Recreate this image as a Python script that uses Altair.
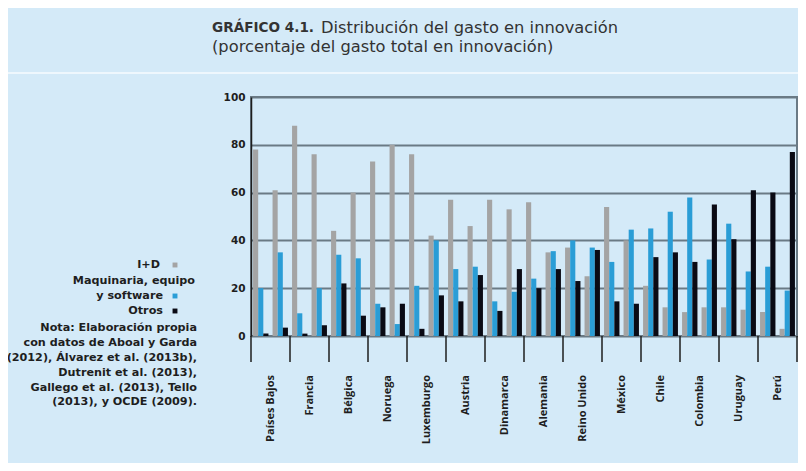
import altair as alt
import pandas as pd

countries = ["Países Bajos", "Francia", "Bélgica", "Noruega", "Luxemburgo", "Austria",
             "Dinamarca", "Alemania", "Reino Unido", "México", "Chile", "Colombia",
             "Uruguay", "Perú"]
subgroups = ["M", "S"]
series = ["I+D", "Maquinaria, equipo y software", "Otros"]
colors = ["#a4a4a4", "#2a9dd6", "#0a0a14"]

id_M = [78, 88, 44, 73, 76, 57, 57, 56, 37, 54, 21, 10, 12, 10]
id_S = [61, 76, 60, 80, 42, 46, 53, 35, 25, 40, 12, 12, 11, 3]
maq_M = [20, 9.5, 34, 13.5, 21, 28, 14.5, 24, 40, 31, 45, 58, 47, 29]
maq_S = [35, 20, 32.5, 5, 40, 29, 18.5, 35.5, 37, 44.5, 52, 32, 27, 19]
otros_M = [1, 1, 22, 12, 3, 14.5, 10.5, 20, 23, 14.5, 33, 31, 40.5, 60]
otros_S = [3.5, 4.5, 8.5, 13.5, 17, 25.5, 28, 28, 36, 13.5, 35, 55, 61, 77]

y_ticks = [0, 20, 40, 60, 80, 100]

title_bold = "GRÁFICO 4.1."
title_rest = "Distribución del gasto en innovación"
title_line2 = "(porcentaje del gasto total en innovación)"
legend_lines = ["I+D", "Maquinaria, equipo", "y software", "Otros"]
note_lines = ["Nota: Elaboración propia", "con datos de Aboal y Garda",
              "(2012), Álvarez et al. (2013b),", "Dutrenit et al. (2013),",
              "Gallego et al. (2013), Tello", "(2013), y OCDE (2009)."]

values = {
    ("M", "I+D"): id_M, ("S", "I+D"): id_S,
    ("M", series[1]): maq_M, ("S", series[1]): maq_S,
    ("M", "Otros"): otros_M, ("S", "Otros"): otros_S,
}

keys = [f"{c}|{s}" for c in countries for s in subgroups]
rows = []
for i, c in enumerate(countries):
    for s in subgroups:
        for se in series:
            rows.append({"key": f"{c}|{s}", "serie": se, "valor": values[(s, se)][i]})
df = pd.DataFrame(rows)

W, H = 546, 239
FONT = "Open Sans"
WIDE = "DejaVu Sans"
GRID = "#6a7a85"
DARK = "#1e1e1e"

xscale = alt.Scale(domain=keys, paddingInner=0, paddingOuter=0)

bars = alt.Chart(df).mark_bar().encode(
    x=alt.X("key:N", scale=xscale,
            axis=alt.Axis(title=None, ticks=False, labelAngle=0, labelPadding=6,
                          labelExpr="split(datum.value, '|')[1]",
                          labelFontWeight="bold", labelFontSize=11, labelColor=DARK,
                          labelFont=FONT, domainColor=DARK, domainWidth=1.5)),
    xOffset=alt.XOffset("serie:N", sort=series,
                        scale=alt.Scale(domain=series, paddingInner=0, paddingOuter=0.4)),
    y=alt.Y("valor:Q", scale=alt.Scale(domain=[0, 100]),
            axis=alt.Axis(title=None, values=y_ticks, ticks=False, grid=True,
                          gridColor=GRID, gridWidth=2, gridOpacity=1,
                          domainColor=DARK, domainWidth=1.5,
                          labelFont=WIDE, labelFontWeight="bold", labelFontSize=10.5,
                          labelColor=DARK, labelPadding=6)),
    color=alt.Color("serie:N", scale=alt.Scale(domain=series, range=colors), legend=None),
)

df_c = pd.DataFrame({"key": [f"{c}|S" for c in countries], "pais": countries})
country_text = alt.Chart(df_c).mark_text(
    angle=270, align="right", baseline="middle", fontWeight="bold", fontSize=11,
    color=DARK, font=FONT
).encode(
    x=alt.X("key:N", scale=xscale, bandPosition=0, axis=None),
    y=alt.value(H + 39),
    text="pais:N",
)

df_sep = pd.DataFrame({"key": [f"{c}|M" for c in countries]})
seps = alt.Chart(df_sep).mark_rule(color=DARK, strokeWidth=1.5).encode(
    x=alt.X("key:N", scale=xscale, bandPosition=0, axis=None),
    y=alt.value(H), y2=alt.value(H + 26),
)
df_end = pd.DataFrame({"key": [f"{countries[-1]}|S"]})
sep_end = alt.Chart(df_end).mark_rule(color=DARK, strokeWidth=1.5).encode(
    x=alt.X("key:N", scale=xscale, bandPosition=1, axis=None),
    y=alt.value(H), y2=alt.value(H + 26),
)

one = pd.DataFrame({"t": [0]})

sep_line = alt.Chart(one).mark_rule(color="#eef7fd", strokeWidth=2).encode(
    x=alt.value(-243), x2=alt.value(W + 1), y=alt.value(-24)
)

t1 = alt.Chart(pd.DataFrame({"t": [title_bold]})).mark_text(
    align="left", baseline="middle", fontSize=13.6, fontWeight="bold", color="#333333", font=WIDE
).encode(x=alt.value(-39), y=alt.value(-69), text="t:N")
t2 = alt.Chart(pd.DataFrame({"t": [title_rest]})).mark_text(
    align="left", baseline="middle", fontSize=16.3, color="#333333", font=WIDE
).encode(x=alt.value(70), y=alt.value(-69), text="t:N")
t3 = alt.Chart(pd.DataFrame({"t": [title_line2]})).mark_text(
    align="left", baseline="middle", fontSize=16.3, color="#333333", font=WIDE
).encode(x=alt.value(-39), y=alt.value(-50), text="t:N")

leg_y = [168, 184, 199, 214]
leg_x = [-91, -56, -88, -88]
leg_layers = []
for txt, yy, xx in zip(legend_lines, leg_y, leg_x):
    leg_layers.append(
        alt.Chart(pd.DataFrame({"t": [txt]})).mark_text(
            align="right", baseline="middle", fontSize=11.2, fontWeight="bold",
            color=DARK, font=WIDE
        ).encode(x=alt.value(xx), y=alt.value(yy), text="t:N")
    )
marker_y = [168, 199, 214]
for col, yy in zip(colors, marker_y):
    leg_layers.append(
        alt.Chart(one).mark_square(size=24, color=col, opacity=1).encode(
            x=alt.value(-76), y=alt.value(yy)
        )
    )
note_y = [231, 246, 261, 276, 291, 305]
for txt, yy in zip(note_lines, note_y):
    leg_layers.append(
        alt.Chart(pd.DataFrame({"t": [txt]})).mark_text(
            align="right", baseline="middle", fontSize=11.2, fontWeight="bold",
            color=DARK, font=WIDE
        ).encode(x=alt.value(-54), y=alt.value(yy), text="t:N")
    )

chart = alt.layer(bars, seps, sep_end, country_text, sep_line, t1, t2, t3, *leg_layers).properties(
    width=W, height=H,
    padding={"left": 243, "top": 89, "right": 1, "bottom": 127},
    autosize=alt.AutoSizeParams(type="none"),
).configure(
    background="#d4eaf8", font=FONT
).configure_view(
    stroke=GRID, strokeWidth=2
)

chart.save("out.html", embed_options={"renderer": "svg", "actions": False})
